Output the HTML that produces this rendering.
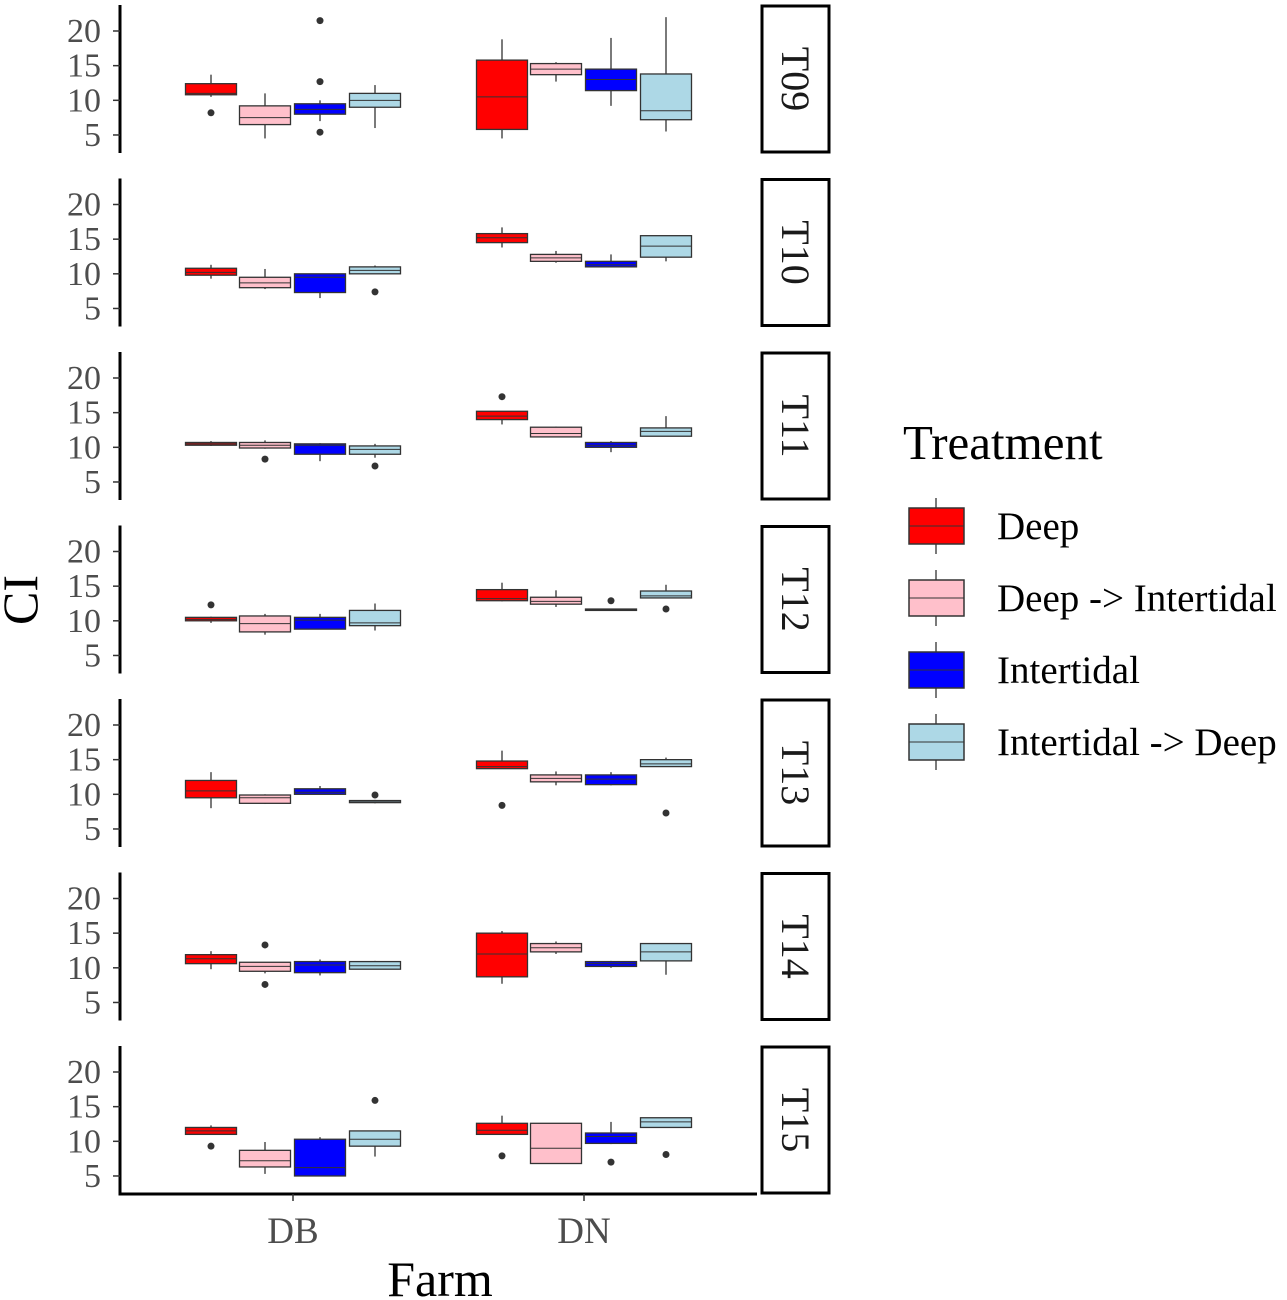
<!DOCTYPE html>
<html><head><meta charset="utf-8"><style>
html,body{margin:0;padding:0;background:#fff}
svg{display:block;font-family:"Liberation Serif",serif}
</style></head><body>
<svg id="chart" width="1287" height="1300" viewBox="0 0 1287 1300"></svg>
<script>
const panels = ["T09","T10","T11","T12","T13","T14","T15"];
const farms = ["DB","DN"];
const treatments = ["Deep","Deep -> Intertidal","Intertidal","Intertidal -> Deep"];
const yTicks = [5,10,15,20];
// stats per panel, per farm, per treatment: [lowWhisker, q1, median, q3, highWhisker]
const statsT09 = [[[10.5,10.8,11,12.4,13.7],[4.5,6.5,7.5,9.2,11],[7,8,8.7,9.5,10],[6,9,10,11,12.2]],[[4.5,5.8,10.5,15.8,18.8],[12.7,13.7,14.5,15.3,15.5],[9.2,11.4,13,14.5,19],[5.5,7.2,8.5,13.8,22]]];
const statsT10 = [[[9.3,9.8,10.2,10.8,11.3],[7.8,8,8.7,9.5,10.7],[6.5,7.3,9.5,10,10],[10,10,10.5,11,11.2]],[[13.8,14.5,15.2,15.8,16.7],[11.6,11.8,12.3,12.8,13.3],[11,11,11.3,11.8,12.8],[11.8,12.4,14,15.5,15.5]]];
const statsT11 = [[[10.2,10.3,10.5,10.7,10.9],[9.8,9.9,10.3,10.7,11],[8,9,10.3,10.5,10.6],[8.5,9,9.7,10.2,10.5]],[[13.3,14,14.5,15.2,15.2],[11.5,11.5,12,12.9,13],[9.3,10,10.3,10.7,10.9],[11.6,11.6,12.3,12.8,14.5]]];
const statsT12 = [[[9.7,10,10.2,10.5,10.6],[8,8.4,9.6,10.7,11],[8.8,8.8,10.1,10.5,11],[8.6,9.3,9.7,11.5,12.5]],[[12.8,12.9,13.2,14.5,15.5],[12,12.4,12.8,13.4,14.4],[11.5,11.5,11.6,11.7,11.7],[13.3,13.3,13.6,14.3,15.2]]];
const statsT13 = [[[8,9.5,10.5,12,13.2],[8.6,8.7,9.5,9.9,10],[10,10,10.3,10.8,11.2],[8.7,8.8,9,9.1,9.2]],[[13.7,13.7,14,14.8,16.3],[11.3,11.8,12.3,12.8,13.3],[11.3,11.4,12.2,12.8,13.2],[14,14,14.4,15,15.3]]];
const statsT14 = [[[9.8,10.6,11.3,11.9,12.4],[9.2,9.5,10.2,10.8,10.8],[8.9,9.3,10.4,10.9,11.2],[9.8,9.8,10.3,10.9,11]],[[7.7,8.7,12,15,15.3],[12,12.3,12.9,13.5,13.8],[10,10.2,10.6,10.9,11],[9,11,12.3,13.5,13.5]]];
const statsT15 = [[[11,11,11.5,12,12.3],[5.3,6.3,7.2,8.7,9.9],[5,5,6.2,10.3,10.6],[7.8,9.3,10.3,11.5,11.5]],[[11,11,11.6,12.6,13.7],[6.8,6.8,9,12.6,12.6],[9.6,9.7,10.7,11.2,12.8],[12,12,12.8,13.4,13.4]]];
const stats = [statsT09,statsT10,statsT11,statsT12,statsT13,statsT14,statsT15];
// outliers per panel, per farm, per treatment
const outliers = [
 [[[8.2],[],[21.5,12.7,5.4],[]],[[],[],[],[]]],
 [[[],[],[],[7.4]],[[],[],[],[]]],
 [[[],[8.3],[],[7.3]],[[17.3],[],[],[]]],
 [[[12.3],[],[],[]],[[],[],[12.9],[11.7]]],
 [[[],[],[],[9.9]],[[8.4],[],[],[7.3]]],
 [[[],[13.3,7.6],[],[]],[[],[],[],[]]],
 [[[9.3],[],[],[15.9]],[[7.9],[],[7],[8.1]]]
];
const colors = ["#ff0000","#ffc0cb","#0000ff","#add8e6"];

const NS="http://www.w3.org/2000/svg";
const svg=document.getElementById('chart');
function mk(tag,attrs,parent){const e=document.createElementNS(NS,tag);for(const k in attrs)e.setAttribute(k,attrs[k]);(parent||svg).appendChild(e);return e;}
const panelTop0=5, panelH=148, panelStep=173.5;
const yMin=2.4, yMax=23.75;
const plotL=120, plotR=757;
function yScale(p,v){const top=panelTop0+p*panelStep;return top+panelH-(v-yMin)/(yMax-yMin)*panelH;}
const farmX=[293,584];
const offs=[-82,-28,27,82];
const bw=51;
function xScale(f,t){return farmX[f]+offs[t];}

panels.forEach((pn,p)=>{
  const top=panelTop0+p*panelStep;
  const g=mk('g',{});
  
  
  const ax=mk('line',{x1:plotL,x2:plotL,y1:top,y2:top+panelH,stroke:'#000','stroke-width':3},g);
  
  
  yTicks.forEach(v=>{
    const y=yScale(p,v);
    mk('line',{x1:plotL-7,x2:plotL,y1:y,y2:y,stroke:'#333','stroke-width':1.5},g);
    const t=mk('text',{x:plotL-19,y:y+11,'text-anchor':'end','font-size':34,fill:'#4d4d4d'},g);
    t.textContent=v;
    
    
  });
  for(let f=0;f<2;f++)for(let t=0;t<4;t++){
    const s=stats[p][f][t];const cx=xScale(f,t);
    const bg=mk('g',{},g);
    
    
    mk('line',{x1:cx,x2:cx,y1:yScale(p,s[0]),y2:yScale(p,s[4]),stroke:'#333','stroke-width':1.3},bg);
    mk('rect',{x:cx-bw/2,y:yScale(p,s[3]),width:bw,height:Math.max(1,yScale(p,s[1])-yScale(p,s[3])),fill:colors[t],stroke:'#333','stroke-width':1.3},bg);
    mk('line',{x1:cx-bw/2,x2:cx+bw/2,y1:yScale(p,s[2]),y2:yScale(p,s[2]),stroke:'#333','stroke-width':1},bg);
    outliers[p][f][t].forEach(o=>{
      const c=mk('circle',{cx:cx,cy:yScale(p,o),r:3.5,fill:'#333'},bg);
      
      
    });
  }
  const sg=mk('g',{},g);
  
  
  mk('rect',{x:762,y:top+1,width:67,height:panelH-2,fill:'#fff',stroke:'#000','stroke-width':3},sg);
  const st=mk('text',{x:0,y:0,'text-anchor':'middle','font-size':40,fill:'#1a1a1a',transform:`translate(782,${top+panelH/2}) rotate(90)`},sg);
  st.textContent=pn;
});
const xa=mk('line',{x1:plotL-1.5,x2:plotR,y1:1194,y2:1194,stroke:'#000','stroke-width':3});


farms.forEach((f,i)=>{
  mk('line',{x1:farmX[i],x2:farmX[i],y1:1194,y2:1201,stroke:'#333','stroke-width':1.5});
  const t=mk('text',{x:farmX[i],y:1243,'text-anchor':'middle','font-size':37,fill:'#4d4d4d'});
  t.textContent=f;
  
  
});
const xt=mk('text',{x:440,y:1296,'text-anchor':'middle','font-size':50,fill:'#000'});
xt.textContent='Farm';


const yt=mk('text',{x:0,y:0,'text-anchor':'middle','font-size':50,fill:'#000',transform:'translate(37,600) rotate(-90)'});
yt.textContent='CI';


const lg=mk('g',{});


const ltl=mk('text',{x:903,y:459,'font-size':49,fill:'#000'},lg);
ltl.textContent='Treatment';
treatments.forEach((tr,i)=>{
  const y=508+i*72;
  const e=mk('g',{},lg);
  
  
  mk('line',{x1:936,x2:936,y1:y-10,y2:y+46,stroke:'#333','stroke-width':1.3},e);
  mk('rect',{x:909,y:y,width:55,height:36,fill:colors[i],stroke:'#333','stroke-width':1.5},e);
  mk('line',{x1:909,x2:964,y1:y+18,y2:y+18,stroke:'#333','stroke-width':1},e);
  const t=mk('text',{x:997,y:y+31,'font-size':39,fill:'#000'},e);
  t.textContent=tr;
});
</script>
</body></html>
